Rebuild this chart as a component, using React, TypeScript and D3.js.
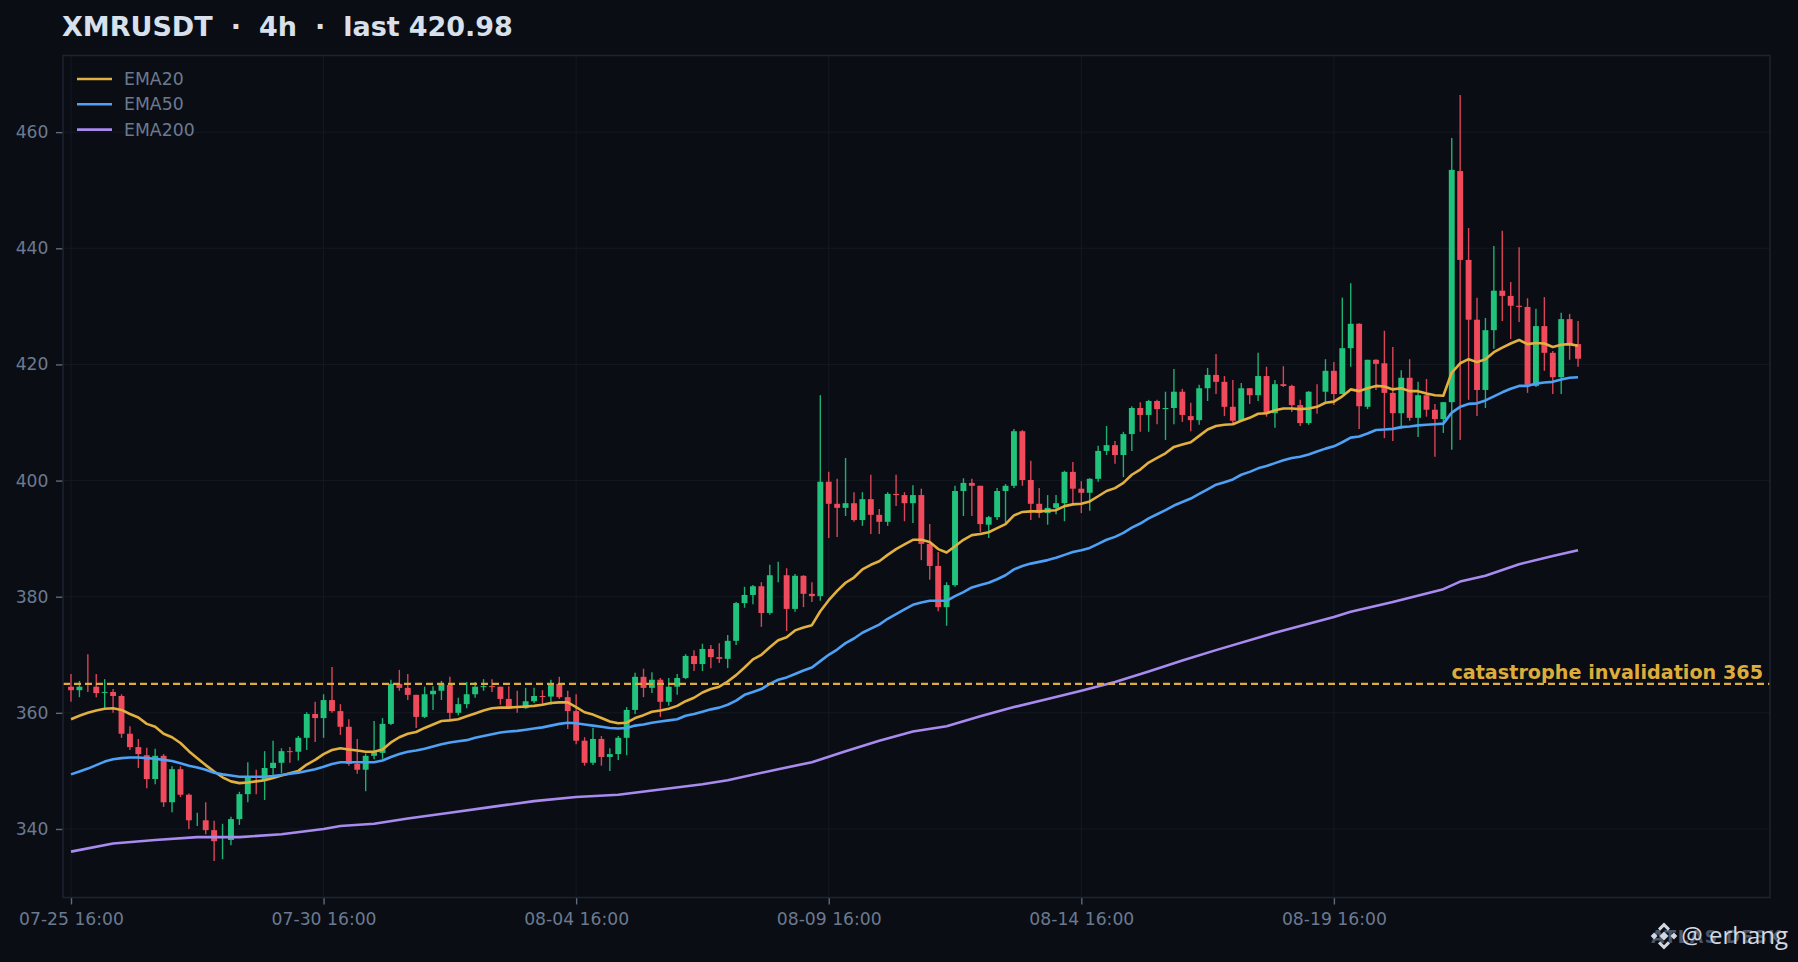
import React, { useEffect, useRef } from "react";
import * as d3 from "d3";

const opens = [
  364.5, 363.9, 365, 364.5, 363.55, 363.6, 362.9, 356.4, 354.1, 352.7,
  348.6, 352.6, 344.6, 350.3, 345.9, 341.5, 341.5, 339.8, 338, 338.1,
  341.7, 346, 349, 348.4, 350.5, 351.4, 353.4, 353.3, 355.7, 359.8,
  359.1, 362.2, 360.3, 357.6, 351.2, 350.2, 352.6, 353.1, 358.1, 365,
  364.3, 363.1, 359.3, 363.2, 363.8, 364.8, 360, 361.5, 363.2, 364.5,
  364.6, 364.5, 362.4, 360.8, 360.8, 362, 362.9, 362.8, 365, 362.7,
  360.3, 355.2, 351.4, 355.5, 352.4, 352.9, 355.7, 360.5, 366.2, 364.3,
  365.7, 361.9, 364.5, 366, 369.8, 368.4, 371, 369.6, 369.3, 372.4,
  378.9, 380.3, 381.8, 377.2, 383.7, 383.7, 377.9, 383.6, 380.5, 380.1,
  399.8, 396, 395.3, 396.1, 393.2, 396.8, 394.1, 392.9, 397.7, 397.5,
  396.1, 397.5, 389.1, 385.3, 378.2, 382, 398.2, 399.6, 399.1, 392.4,
  393.7, 398.2, 399.1, 408.5, 400.1, 396, 394.4, 395.3, 396.1, 401.5,
  398.6, 397.9, 400.3, 405.1, 406.1, 404.4, 408, 412.5, 411.3, 413.7,
  412.3, 412.5, 415.3, 411.1, 410.4, 415.9, 418.2, 417, 412.7, 410.3,
  415.9, 414.7, 418, 411.6, 416.6, 416.3, 413, 409.9, 415.3, 415.3,
  418.9, 414.9, 422.8, 427, 412.7, 420.8, 420.2, 415.1, 411.6, 417.7,
  410.8, 414.7, 412.2, 410.6, 413.5, 453.3, 438, 427.7, 415.6, 425.9,
  432.7, 431.8, 430.1, 429.9, 416.3, 426.6, 422, 417.8, 427.8, 423.5,
];
const closes = [
  363.9, 364.5, 364.99, 363.4, 363.6, 362.9, 356.4, 354.1, 352.9, 348.6,
  352.6, 344.6, 350.3, 345.9, 341.5, 341.51, 339.8, 337.9, 338.01, 341.7,
  346, 349, 348.99, 350.5, 351.4, 353.4, 353.3, 355.7, 359.8, 359.1,
  362.2, 360.3, 357.6, 351.2, 350.2, 352.6, 353.2, 358.1, 365, 364.3,
  363.1, 359.3, 363.2, 363.8, 365, 360, 361.5, 363.2, 364.5, 364.6,
  364.5, 362.4, 360.8, 360.79, 362, 362.9, 362.8, 365, 362.7, 360.3,
  355.2, 351.4, 355.5, 352.4, 352.9, 355.7, 360.5, 366.2, 364.3, 365.7,
  361.9, 364.5, 366, 369.8, 368.4, 371, 369.6, 369.3, 372.4, 378.9,
  380.3, 381.8, 377.2, 383.7, 383.71, 377.9, 383.6, 380.5, 380.1, 399.8,
  396, 395.3, 396.1, 393.2, 396.8, 394.1, 392.9, 397.7, 397.5, 396.1,
  397.5, 389.1, 385.3, 378.2, 382, 398.2, 399.6, 399.1, 392.5, 393.7,
  398.2, 399.1, 408.5, 400.1, 396, 394.4, 395.3, 396.1, 401.5, 398.6,
  397.9, 400.3, 405.1, 406.1, 404.4, 408, 412.5, 411.3, 413.7, 412.3,
  412.5, 415.3, 411.3, 410.4, 415.9, 418.2, 417, 412.7, 410.3, 415.9,
  414.7, 418, 411.6, 416.6, 416.3, 413, 409.9, 415.3, 415.29, 418.9,
  414.9, 422.8, 427, 412.8, 420.8, 420.1, 415.1, 411.6, 417.7, 410.8,
  414.7, 412.2, 410.6, 413.5, 453.5, 438, 427.7, 415.6, 425.9, 432.7,
  431.8, 430.1, 429.9, 416.5, 426.6, 422, 417.8, 427.8, 423.5, 420.98,
];
const highs = [
  366.7, 365.5, 370.1, 366.7, 365.8, 364.1, 363.2, 357.7, 355.5, 354,
  353.8, 352.9, 350.8, 350.8, 346.1, 342.8, 344.6, 341.4, 340.9, 342.1,
  346.4, 351.5, 350.2, 353.4, 355.2, 353.9, 354.1, 356, 360.1, 361.9,
  363.2, 367.9, 361.5, 358.9, 355.5, 353, 358.6, 359.1, 365.7, 367.4,
  366.7, 363.1, 364.5, 364.6, 365.5, 366.2, 362.6, 365.3, 365.3, 365.8,
  365.8, 364.5, 364.6, 363.8, 364.3, 364.3, 363.9, 365.7, 366.2, 363.8,
  363.2, 355.8, 357.4, 356, 353.9, 356, 361, 366.9, 367.6, 367,
  366, 366, 366.7, 370.1, 370.8, 371.9, 371.7, 372, 373.4, 379.1,
  381.7, 382, 382.5, 385.5, 386, 384.9, 383.9, 383.7, 382.5, 414.7,
  401.5, 400.3, 403.9, 398, 398, 401, 395.1, 398, 401, 398,
  399.2, 398.6, 392.5, 387.7, 382.5, 399.1, 400.4, 400.3, 399.1, 393.9,
  398.7, 399.4, 408.9, 408.7, 403.4, 398.7, 397.5, 397.5, 401.7, 403.2,
  399.9, 400.4, 406, 409.4, 406.8, 408.4, 412.8, 413.5, 413.9, 413.9,
  415.3, 419.2, 415.8, 413.4, 416.5, 419.4, 421.8, 418, 417.3, 416.8,
  415.9, 422, 419.6, 417.3, 419.7, 416.5, 413.9, 415.4, 416.6, 420.9,
  420.4, 431.5, 434, 427.1, 420.8, 420.9, 425.8, 423, 419, 420.9,
  417, 417.5, 413.2, 413.5, 459, 466.4, 443.5, 431.5, 428, 440.4,
  443, 434.2, 440.2, 431.4, 429.6, 431.6, 422.3, 428.9, 428.7, 427.5,
];
const lows = [
  361.9, 362.7, 363.6, 362.7, 360.7, 360, 355.7, 353.6, 350.5, 347,
  347.7, 343.8, 342.9, 345.5, 340, 340.5, 339.1, 334.5, 334.8, 337.2,
  340.7, 344.6, 346, 345, 349.3, 349.6, 351.4, 351.8, 353.6, 355,
  355.7, 360, 356.2, 350.9, 349.5, 346.5, 352, 352.1, 357.9, 363.8,
  362.2, 357.4, 359.1, 360.5, 362.2, 358.8, 359.6, 360.8, 362.6, 363.8,
  363.6, 361.4, 360.7, 360, 360.7, 361.7, 361.5, 361.4, 362.4, 357.2,
  354.6, 350.9, 351, 350.9, 350, 351.9, 352.7, 359.8, 362.7, 363.4,
  359.3, 361.2, 363.1, 365.8, 367.2, 367.2, 367.7, 368.6, 367.7, 371.7,
  378.1, 378.7, 374.8, 376.9, 382.5, 374.1, 377.4, 378.2, 379.1, 379.3,
  390.1, 390.3, 393.9, 392.9, 392.2, 390.8, 390.8, 392.2, 395.6, 393,
  392.7, 386.3, 382.9, 377.5, 375, 381.7, 393.9, 393.9, 391.1, 390.1,
  393.2, 392.7, 398.7, 399.1, 393.2, 393.6, 392.4, 394.2, 393, 396,
  394.4, 394.8, 399.8, 404.4, 402.9, 400.6, 405.1, 408.4, 408.4, 409.7,
  407, 409.7, 410.1, 408.5, 409.6, 413.7, 414.9, 411.1, 409.9, 410.1,
  413.2, 413.7, 411, 409.1, 416.1, 411.8, 409.4, 409.6, 411.5, 413.5,
  413, 414.9, 419.6, 408.9, 412.3, 415.6, 407.3, 406.8, 408.9, 410.3,
  407.5, 411, 404.1, 408.2, 405.3, 407, 413.9, 411.1, 412.5, 422.7,
  427.5, 424.4, 427.3, 415.1, 416.1, 418.9, 414.9, 414.9, 420.8, 419.6,
];

const ema20 = [
  358.9, 359.5, 360, 360.4, 360.7, 360.8, 360.5, 359.8, 359.2, 358.1,
  357.6, 356.4, 355.8, 354.8, 353.4, 352.2, 351, 349.9, 348.9, 348.2,
  347.9, 348, 348.2, 348.4, 348.8, 349.2, 349.6, 350, 351.1, 351.9,
  352.9, 353.6, 353.9, 353.7, 353.5, 353.3, 353.3, 353.7, 354.9, 355.8,
  356.4, 356.7, 357.4, 358, 358.6, 358.7, 358.9, 359.4, 359.9, 360.4,
  360.8, 360.9, 360.9, 361, 361.1, 361.2, 361.4, 361.7, 361.8, 361.8,
  361, 360.1, 359.7, 359.1, 358.5, 358.2, 358.3, 359.1, 359.6, 360.2,
  360.4, 360.7, 361.2, 362, 362.6, 363.5, 364.1, 364.5, 365.4, 366.5,
  367.8, 369.2, 370, 371.3, 372.5, 373, 374.2, 374.7, 375.1, 377.5,
  379.4, 381, 382.4, 383.3, 384.7, 385.5, 386.1, 387.2, 388.2, 389,
  389.8, 389.8, 389.4, 388.2, 387.6, 388.7, 389.8, 390.6, 390.8, 391.1,
  391.8, 392.5, 394, 394.6, 394.7, 394.7, 394.8, 394.9, 395.6, 395.9,
  396, 396.4, 397.3, 398.2, 398.7, 399.6, 401, 401.9, 403.1, 403.9,
  404.7, 405.8, 406.2, 406.6, 407.7, 408.8, 409.4, 409.6, 409.7, 410.3,
  410.8, 411.5, 411.6, 412.1, 412.4, 412.4, 412.3, 412.4, 412.7, 413.4,
  413.6, 414.5, 415.7, 415.4, 415.9, 416.3, 416.2, 415.7, 415.9, 415.4,
  415.4, 415, 414.7, 414.6, 418.6, 420.2, 420.9, 420.4, 420.9, 422.1,
  422.9, 423.6, 424.2, 423.5, 423.7, 423.6, 423, 423.4, 423.5, 423.2,
];
const ema50 = [
  349.4, 349.9, 350.4, 351, 351.6, 352, 352.2, 352.3, 352.3, 352.2,
  352.1, 351.9, 351.7, 351.3, 350.9, 350.6, 350.2, 349.7, 349.4, 349.2,
  349, 349, 349, 349, 349.1, 349.3, 349.5, 349.7, 350, 350.3,
  350.7, 351.2, 351.5, 351.5, 351.5, 351.5, 351.5, 351.8, 352.4, 352.9,
  353.3, 353.5, 353.8, 354.2, 354.6, 354.9, 355.1, 355.3, 355.7, 356,
  356.3, 356.6, 356.8, 356.9, 357.1, 357.3, 357.5, 357.8, 358.1, 358.3,
  358.2, 358, 357.8, 357.6, 357.4, 357.3, 357.4, 357.8, 358, 358.3,
  358.5, 358.7, 358.9, 359.5, 359.8, 360.2, 360.6, 360.9, 361.4, 362.1,
  363.1, 363.6, 364.1, 365, 365.7, 366.1, 366.7, 367.3, 367.8, 368.9,
  370, 370.9, 372, 372.8, 373.8, 374.5, 375.2, 376.2, 377, 377.8,
  378.6, 379, 379.3, 379.3, 379.3, 380.1, 380.8, 381.6, 382, 382.4,
  383, 383.7, 384.7, 385.3, 385.7, 386, 386.3, 386.7, 387.2, 387.7,
  388, 388.4, 389.1, 389.8, 390.3, 391, 391.9, 392.6, 393.5, 394.2,
  394.9, 395.7, 396.3, 396.9, 397.7, 398.5, 399.3, 399.7, 400.2, 401,
  401.5, 402.1, 402.5, 403, 403.5, 403.9, 404.1, 404.5, 405, 405.5,
  405.9, 406.6, 407.4, 407.6, 408.1, 408.7, 408.8, 408.9, 409.2, 409.3,
  409.5, 409.6, 409.7, 409.8, 411.7, 412.7, 413.2, 413.3, 413.8, 414.5,
  415.2, 415.8, 416.3, 416.3, 416.7, 416.9, 417, 417.4, 417.7, 417.8,
];
// the slow average is smooth, so it is read at fewer candles
const ema200Index = [
  0, 5, 10, 15, 20, 25, 30, 32, 36, 40, 45, 50, 55, 60, 65, 70, 75, 78, 84, 88, 92,
  96, 100, 104, 108, 112, 116, 120, 124, 128, 132, 136, 143, 150, 152, 157, 163, 165,
  168, 172, 176, 179,
];
const ema200 = [
  336.1, 337.5, 338.1, 338.6, 338.6, 339.1, 340, 340.5, 340.9, 341.8, 342.8, 343.8,
  344.8, 345.5, 345.9, 346.8, 347.7, 348.4, 350.3, 351.5, 353.4, 355.2, 356.8, 357.7,
  359.4, 361, 362.4, 363.8, 365.3, 367.1, 369, 370.8, 373.8, 376.5, 377.4, 379.1,
  381.3, 382.6, 383.6, 385.6, 387, 388,
];

const yTicks = [340, 360, 380, 400, 420, 440, 460];
const xTicks = [0, 30, 60, 90, 120, 150];
const xTickLabels = ["07-25 16:00", "07-30 16:00", "08-04 16:00", "08-09 16:00", "08-14 16:00", "08-19 16:00"];
const invalidation = 365;

const legendNames = ["EMA20", "EMA50", "EMA200"];
const legendColors = ["#e2b03f", "#4ea1f5", "#a98bf0"];

const BG = "#0a0d14";
const UP = "#20c27c";
const DOWN = "#f04b5d";
const GOLD = "#deac3b";
const FONT = "'DejaVu Sans', sans-serif";

const App: React.FC = () => {
  const ref = useRef<SVGSVGElement>(null);

  useEffect(() => {
    const left = 63;
    const right = 1770;
    const top = 55.5;
    const bottom = 897.5;

    const x = d3.scaleLinear().domain([-0.95, 201.8]).range([left, right]);
    const y = d3.scaleLinear().domain([328.2, 473.2]).range([bottom, top]);

    const svg = d3.select(ref.current);
    svg.selectAll("*").remove();

    svg.append("rect").attr("width", 1798).attr("height", 962).attr("fill", BG);

    // Grid
    const grid = svg.append("g").attr("stroke", "#141922").attr("stroke-width", 1);
    yTicks.forEach((t) => {
      grid.append("line").attr("x1", left).attr("x2", right).attr("y1", y(t)).attr("y2", y(t));
    });
    xTicks.forEach((t) => {
      grid.append("line").attr("x1", x(t)).attr("x2", x(t)).attr("y1", top).attr("y2", bottom);
    });

    // Axes
    const gx = svg
      .append("g")
      .attr("transform", `translate(0,${bottom})`)
      .call(
        d3
          .axisBottom(x)
          .tickValues(xTicks)
          .tickSize(7)
          .tickPadding(8)
          .tickFormat((_, i) => xTickLabels[i])
      );
    const gy = svg
      .append("g")
      .attr("transform", `translate(${left},0)`)
      .call(d3.axisLeft(y).tickValues(yTicks).tickSize(7).tickPadding(7.5));
    [gx, gy].forEach((g) => {
      g.select(".domain").remove();
      g.selectAll("line").attr("stroke", "#5f6b7c").attr("stroke-width", 1.4);
      g.selectAll("text")
        .attr("fill", "#6b7a90")
        .style("font-family", FONT)
        .style("font-size", "17.2px");
    });

    // Candles
    const idx = d3.range(opens.length);
    const color = (i: number) => (closes[i] >= opens[i] ? UP : DOWN);
    const bodyW = 5.9;

    svg
      .append("g")
      .selectAll("line")
      .data(idx)
      .enter()
      .append("line")
      .attr("x1", (i) => x(i))
      .attr("x2", (i) => x(i))
      .attr("y1", (i) => y(highs[i]))
      .attr("y2", (i) => y(lows[i]))
      .attr("stroke", color)
      .attr("stroke-opacity", 0.9)
      .attr("stroke-width", 1.4);

    svg
      .append("g")
      .selectAll("rect")
      .data(idx.filter((i) => Math.abs(opens[i] - closes[i]) > 0.03))
      .enter()
      .append("rect")
      .attr("x", (i) => x(i) - bodyW / 2)
      .attr("width", bodyW)
      .attr("y", (i) => y(Math.max(opens[i], closes[i])))
      .attr("height", (i) => Math.max(1, Math.abs(y(opens[i]) - y(closes[i]))))
      .attr("fill", color);

    // EMA lines
    const line = d3
      .line<[number, number]>()
      .x((d) => x(d[0]))
      .y((d) => y(d[1]));
    const emaData: [number, number][][] = [
      ema20.map((v, i) => [i, v]),
      ema50.map((v, i) => [i, v]),
      ema200.map((v, i) => [ema200Index[i], v]),
    ];
    emaData.forEach((d, k) => {
      svg
        .append("path")
        .datum(d)
        .attr("fill", "none")
        .attr("stroke", legendColors[k])
        .attr("stroke-width", 2.6)
        .attr("stroke-linejoin", "round")
        .attr("d", line);
    });

    // Invalidation level
    svg
      .append("line")
      .attr("x1", left)
      .attr("x2", right)
      .attr("y1", y(invalidation))
      .attr("y2", y(invalidation))
      .attr("stroke", GOLD)
      .attr("stroke-width", 2.2)
      .attr("stroke-dasharray", "7,4");
    svg
      .append("text")
      .attr("x", 1763)
      .attr("y", y(invalidation) - 5)
      .attr("text-anchor", "end")
      .attr("fill", GOLD)
      .style("font-family", FONT)
      .style("font-weight", "bold")
      .style("font-size", "19.2px")
      .text(`catastrophe invalidation ${invalidation}`);

    // Frame on top of the marks
    svg
      .append("rect")
      .attr("x", left)
      .attr("y", top)
      .attr("width", right - left)
      .attr("height", bottom - top)
      .attr("fill", "none")
      .attr("stroke", "#1d2531")
      .attr("stroke-width", 1.5);

    // Legend
    legendNames.forEach((name, k) => {
      const ly = 79 + k * 25.3;
      svg
        .append("line")
        .attr("x1", 77)
        .attr("x2", 112)
        .attr("y1", ly)
        .attr("y2", ly)
        .attr("stroke", legendColors[k])
        .attr("stroke-width", 2.6);
      svg
        .append("text")
        .attr("x", 124)
        .attr("y", ly + 6)
        .attr("fill", "#6b7a90")
        .style("font-family", FONT)
        .style("font-size", "17.3px")
        .text(name);
    });

    // Title
    svg
      .append("text")
      .attr("x", 62)
      .attr("y", 36)
      .attr("fill", "#d8e0ec")
      .style("font-family", FONT)
      .style("font-weight", "bold")
      .style("font-size", "27px")
      .style("white-space", "pre")
      .style("word-spacing", "-0.4px")
      .text("XMRUSDT  ·  4h  ·  last 420.98");

    // Watermark
    svg
      .append("text")
      .attr("x", 1783)
      .attr("y", 943)
      .attr("text-anchor", "end")
      .attr("fill", "#4a5566")
      .style("font-family", FONT)
      .style("font-weight", "bold")
      .style("font-size", "17px")
      .style("letter-spacing", "1.5px")
      .text("ATLAS DESK");
    const logo = svg.append("g").attr("transform", "translate(1664,936) rotate(45)").attr("fill", "#d2d6de");
    [
      [0, 0, 3.2],
      [-7, 7, 2.4],
      [7, -7, 2.4],
    ].forEach(([cx, cy, r]) => {
      logo.append("rect").attr("x", cx - r).attr("y", cy - r).attr("width", r * 2).attr("height", r * 2);
    });
    logo
      .append("path")
      .attr("fill", "none")
      .attr("stroke", "#d2d6de")
      .attr("stroke-width", 3)
      .attr("d", "M-8,-1V-8H-1M8,1V8H1");
    svg
      .append("text")
      .attr("x", 1788)
      .attr("y", 944)
      .attr("text-anchor", "end")
      .attr("fill", "#d4d8e0")
      .style("font-family", "'Open Sans', sans-serif")
      .style("font-size", "24px")
      .text("@ erhang");
  }, []);

  return (
    <svg
      ref={ref}
      width={1798}
      height={962}
      style={{ position: "absolute", left: 0, top: 0, display: "block" }}
    />
  );
};

export default App;
